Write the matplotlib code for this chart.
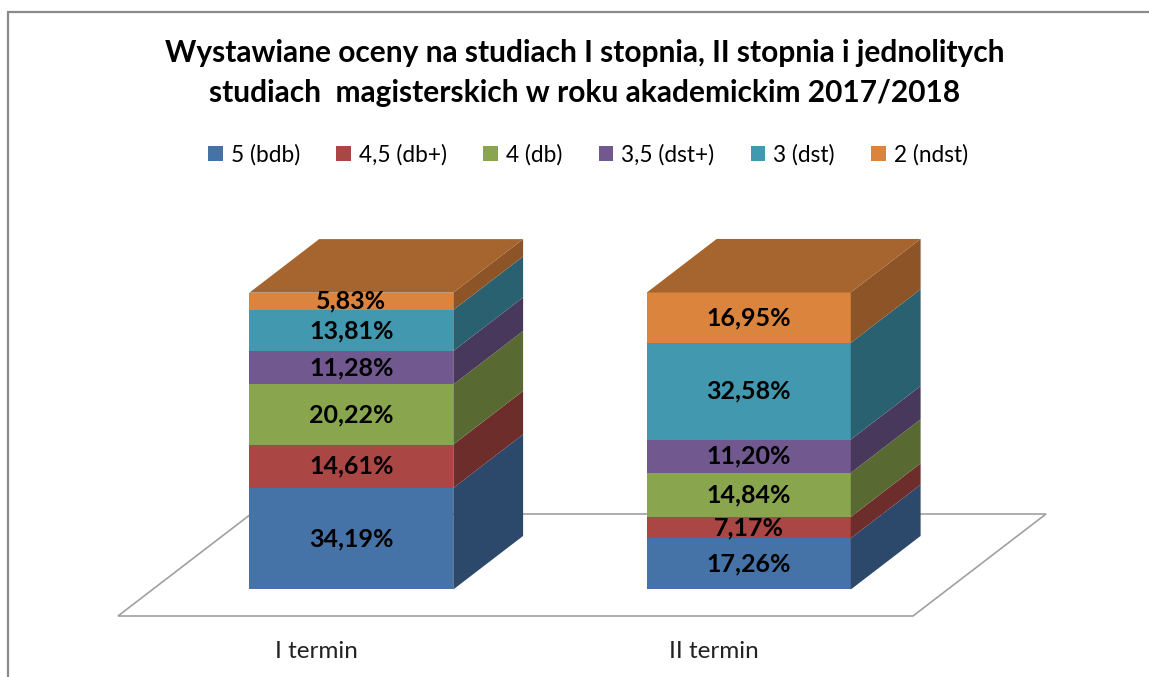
import matplotlib.pyplot as plt
from matplotlib.patches import Polygon, Patch, Rectangle
from matplotlib.colors import to_rgb

plt.rcParams['font.family'] = ['Lato', 'DejaVu Sans']

# data
categories = ['I termin', 'II termin']
grades = ['5 (bdb)', '4,5 (db+)', '4 (db)', '3,5 (dst+)', '3 (dst)', '2 (ndst)']
shares = {
    '5 (bdb)': [34.19, 17.26],
    '4,5 (db+)': [14.61, 7.17],
    '4 (db)': [20.22, 14.84],
    '3,5 (dst+)': [11.28, 11.20],
    '3 (dst)': [13.81, 32.58],
    '2 (ndst)': [5.83, 16.95],
}
colors = ['#4572A7', '#AA4643', '#89A54E', '#71588F', '#4198AF', '#DB843D']

title = ('Wystawiane oceny na studiach I stopnia, II stopnia i jednolitych\n'
         'studiach  magisterskich w roku akademickim 2017/2018')


def shade(c, f):
    r, g, b = to_rgb(c)
    return (r * f, g * f, b * f)


W, H = 1149, 677
fig = plt.figure(figsize=(W / 100, H / 100), dpi=100)
ax = fig.add_axes([118 / W, (H - 616) / H, 795 / W, 297 / H])
ax.set_xlim(-0.5, 1.5)
ax.set_ylim(0, 100)

# oblique projection for depth (1 unit of depth = whole floor)
ddx, ddy = 133 / 397.5, 102 / 297 * 100
d0, d1 = 0.26, 0.785
bar_w = 0.513

# floor
x0, x1 = -0.5, 1.5
floor = Polygon([(x0, 0), (x1, 0), (x1 + ddx, ddy), (x0 + ddx, ddy)],
                closed=True, facecolor='white', edgecolor='#a0a0a0', lw=1.2,
                clip_on=False, zorder=1)
ax.add_patch(floor)

xs = list(range(len(categories)))
bottoms = [0.0] * len(categories)
for gi, g in enumerate(grades):
    vals = shares[g]
    col = colors[gi]
    fx = [x + d0 * ddx for x in xs]
    fb = [b + d0 * ddy for b in bottoms]
    ax.bar(fx, vals, width=bar_w, bottom=fb, color=col, zorder=3, clip_on=False)
    for i, x in enumerate(xs):
        right = fx[i] + bar_w / 2
        lo, hi = fb[i], fb[i] + vals[i]
        ox, oy = (d1 - d0) * ddx, (d1 - d0) * ddy
        side = Polygon([(right, lo), (right + ox, lo + oy), (right + ox, hi + oy), (right, hi)],
                       closed=True, facecolor=shade(col, 0.64), edgecolor='none',
                       zorder=3, clip_on=False)
        ax.add_patch(side)
        if gi == len(grades) - 1:
            left = fx[i] - bar_w / 2
            top = Polygon([(left, hi), (right, hi), (right + ox, hi + oy), (left + ox, hi + oy)],
                          closed=True, facecolor=shade(col, 0.76), edgecolor='none',
                          zorder=3, clip_on=False)
            ax.add_patch(top)
        ax.text(fx[i], (lo + hi) / 2, f'{vals[i]:.2f}%'.replace('.', ','),
                ha='center', va='center', fontsize=18, fontweight='bold',
                color='black', zorder=5)
    bottoms = [b + v for b, v in zip(bottoms, vals)]

ax.set_xticks(xs)
ax.set_xticklabels(categories, fontsize=17.5, color='#222222')
ax.tick_params(axis='x', length=0, pad=18)
ax.set_yticks([])
for s in ax.spines.values():
    s.set_visible(False)
ax.patch.set_alpha(0)

fig.text(585 / W, 1 - 73 / H, title, ha='center', va='center', fontsize=21.5,
         fontweight='bold', linespacing=1.5)

handles = [Patch(facecolor=c, edgecolor='none') for c in colors]
fig.legend(handles, grades, loc='center', bbox_to_anchor=(588 / W, 1 - 155 / H),
           ncol=6, frameon=False, fontsize=16.3, handlelength=0.65, handleheight=0.65,
           handletextpad=0.35, columnspacing=1.6)

fig.patches.append(Rectangle((8 / W, -0.1), 1.2, 1.1 - 12 / H, transform=fig.transFigure,
                             fill=False, edgecolor='#8a8a8a', lw=1.6))

fig.savefig('out.png', dpi=100)
